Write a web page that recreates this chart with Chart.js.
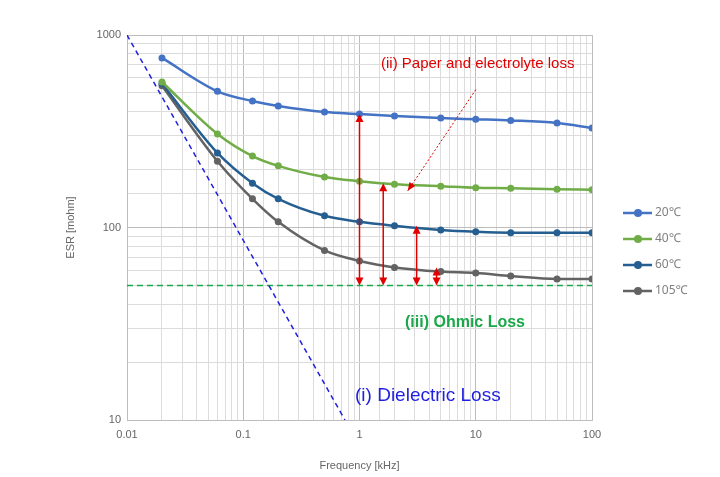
<!DOCTYPE html>
<html><head><meta charset="utf-8">
<script src="https://cdn.jsdelivr.net/npm/chart.js@4"></script>
<style>body{margin:0;background:#fff}#wrap{width:720px;height:477px}</style>
</head><body><div id="wrap"><canvas id="esr"></canvas></div>
<script>
const freq = [0.02, 0.06, 0.12, 0.2, 0.5, 1, 2, 5, 10, 20, 50, 100];
const esr20 = [760, 510, 454, 428, 398, 389, 380, 370, 365, 360, 349, 329];
const esr40 = [570, 306, 235, 209, 183, 174, 168, 164, 161, 160, 158, 157];
const esr60 = [560, 244, 170, 141, 115, 107, 102, 97, 95, 94, 94, 94];
const esr105 = [545, 221, 141, 107, 76, 67, 62, 59, 58, 56, 54, 54];
const seriesLabels = ['20℃', '40℃', '60℃', '105℃'];
const seriesColors = ['#4472c4', '#70ad47', '#255e91', '#636363'];
const dielectric = [{x: 0.01, y: 1000}, {x: 0.75, y: 10}];
const ohmic = [{x: 0.01, y: 50}, {x: 100, y: 50}];
// arrows: [freq, bottom, top]
const arrows = [[1, 50, 389], [1.6, 50, 170], [3.1, 50, 102], [4.6, 50, 62]];

const pts = (ys) => freq.map((f, i) => ({x: f, y: ys[i]}));
const seriesData = [esr20, esr40, esr60, esr105];
const datasets = seriesData.map((ys, i) => ({
  label: seriesLabels[i], data: pts(ys), borderColor: seriesColors[i],
  backgroundColor: seriesColors[i], borderWidth: 2.5, pointRadius: 3.5, pointBorderWidth: 0,
  cubicInterpolationMode: 'monotone', showLine: true
}));
datasets.push({label: 'diel', data: dielectric, borderColor: '#1f1fe0', borderWidth: 1.5,
  borderDash: [5, 4], pointRadius: 0, showLine: true});
datasets.push({label: 'ohm', data: ohmic, borderColor: '#1aa84a', borderWidth: 1.5,
  borderDash: [6, 4], pointRadius: 0, showLine: true});

function arrowHead(ctx, x, y, dir) {
  ctx.beginPath();
  ctx.moveTo(x, y);
  ctx.lineTo(x - 4, y - dir * 8);
  ctx.lineTo(x + 4, y - dir * 8);
  ctx.closePath();
  ctx.fill();
}

const extras = {
  id: 'extras',
  afterDatasetsDraw(chart) {
    const {ctx, scales: {x, y}} = chart;
    ctx.save();
    ctx.strokeStyle = '#e00000'; ctx.fillStyle = '#e00000'; ctx.lineWidth = 1.5;
    arrows.forEach(([f, lo, hi]) => {
      const px = x.getPixelForValue(f), y1 = y.getPixelForValue(lo), y2 = y.getPixelForValue(hi);
      ctx.beginPath(); ctx.moveTo(px, y1 - 6); ctx.lineTo(px, y2 + 6); ctx.stroke();
      arrowHead(ctx, px, y1, 1); arrowHead(ctx, px, y2, -1);
    });
    // dashed pointer
    const ax = x.getPixelForValue(10), ay = y.getPixelForValue(520);
    const bx = x.getPixelForValue(2.6), by = y.getPixelForValue(155);
    ctx.lineWidth = 1; ctx.setLineDash([2, 2]);
    ctx.beginPath(); ctx.moveTo(ax, ay); ctx.lineTo(bx, by); ctx.stroke();
    ctx.setLineDash([]);
    const ang = Math.atan2(by - ay, bx - ax);
    ctx.beginPath(); ctx.moveTo(bx, by);
    ctx.lineTo(bx - 9 * Math.cos(ang - 0.4), by - 9 * Math.sin(ang - 0.4));
    ctx.lineTo(bx - 9 * Math.cos(ang + 0.4), by - 9 * Math.sin(ang + 0.4));
    ctx.closePath(); ctx.fill();

    ctx.textBaseline = 'middle'; ctx.textAlign = 'left';
    ctx.font = '15px "Liberation Sans", Arial';
    ctx.fillText('(ii) Paper and electrolyte loss', 381, 64);
    ctx.fillStyle = '#1aa84a'; ctx.font = 'bold 16px "Liberation Sans", Arial';
    ctx.fillText('(iii) Ohmic Loss', 405, 323);
    ctx.fillStyle = '#1f1fe0'; ctx.font = '19px "Liberation Sans", Arial';
    ctx.fillText('(i) Dielectric Loss', 355, 396);

    // legend
    ctx.font = '12px "Noto Sans", sans-serif';
    seriesLabels.forEach((lab, i) => {
      const ly = 213 + i * 26;
      ctx.strokeStyle = seriesColors[i]; ctx.fillStyle = seriesColors[i]; ctx.lineWidth = 2.5;
      ctx.beginPath(); ctx.moveTo(623, ly); ctx.lineTo(652, ly); ctx.stroke();
      ctx.beginPath(); ctx.arc(638, ly, 4, 0, Math.PI * 2); ctx.fill();
      ctx.fillStyle = '#808080'; ctx.fillText(lab, 655, ly);
    });
    ctx.restore();
  }
};

const isMajor = (v) => Math.abs(Math.log10(v) - Math.round(Math.log10(v))) < 1e-6;

new Chart(document.getElementById('esr'), {
  type: 'scatter',
  data: {datasets},
  plugins: [extras],
  options: {
    responsive: true, maintainAspectRatio: false, animation: false,
    layout: {padding: {top: 35, left: 60, right: 128, bottom: 0}},
    plugins: {legend: {display: false}, tooltip: {enabled: false}},
    scales: {
      x: {
        type: 'logarithmic', min: 0.01, max: 100,
        afterFit: (s) => { s.height = 57; },
        grid: {color: (c) => isMajor(c.tick.value) ? '#bdbdbd' : '#dcdcdc', drawTicks: false},
        border: {color: '#bdbdbd'},
        ticks: {color: '#666', font: {size: 11}, padding: 8, autoSkip: false, maxRotation: 0,
          callback: (v) => isMajor(v) ? String(v) : ''},
        title: {display: true, text: 'Frequency [kHz]', color: '#666', font: {size: 11}, padding: {top: 0}}
      },
      y: {
        type: 'logarithmic', min: 10, max: 1000,
        afterFit: (s) => { s.width = 67; },
        grid: {color: (c) => isMajor(c.tick.value) ? '#bdbdbd' : '#dcdcdc', drawTicks: false},
        border: {color: '#bdbdbd'},
        ticks: {color: '#666', font: {size: 11}, padding: 6, autoSkip: false,
          callback: (v) => isMajor(v) ? String(v) : ''},
        title: {display: true, text: 'ESR [mohm]', color: '#666', font: {size: 11}}
      }
    }
  }
});
</script></body></html>
